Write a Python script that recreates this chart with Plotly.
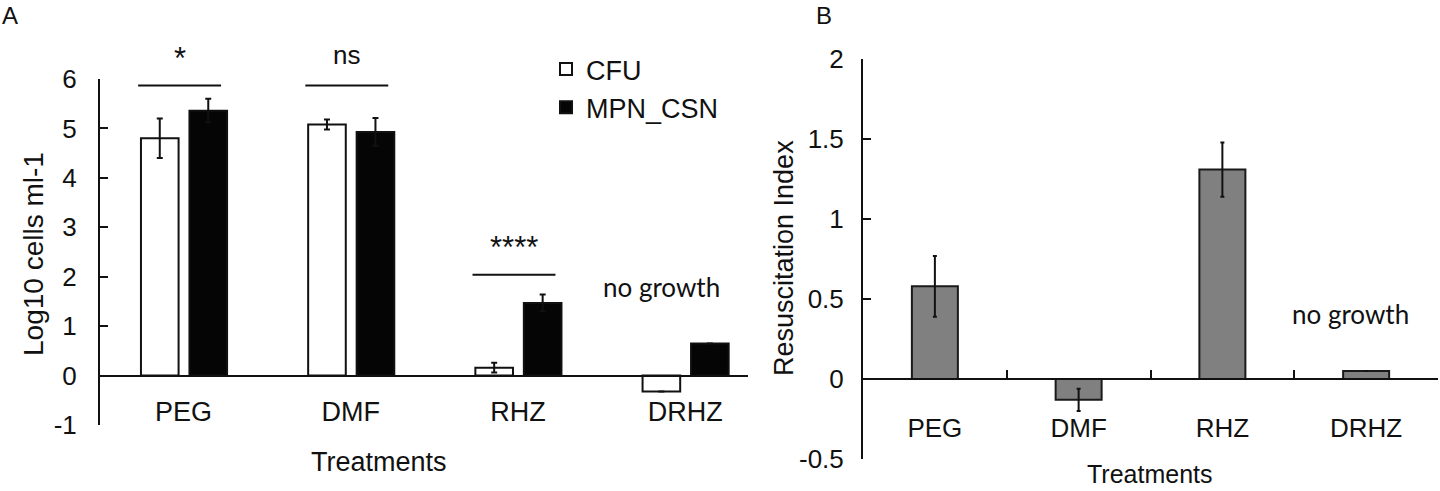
import plotly.graph_objects as go

# ---------------- data ----------------
categories = ["PEG", "DMF", "RHZ", "DRHZ"]

cfu_values = [4.80, 5.08, 0.16, -0.32]
cfu_errors = [0.40, 0.10, 0.10, None]
mpn_values = [5.36, 4.93, 1.47, 0.65]
mpn_errors = [0.24, 0.28, 0.17, None]

ri_values = [0.58, -0.13, 1.31, 0.05]
ri_errors = [0.19, 0.07, 0.17, None]

sig_categories = ["PEG", "DMF", "RHZ"]
sig_levels = [5.87, 5.87, 2.04]
sig_labels = ["*", "ns", "****"]

a_tickvals = [-1, 0, 1, 2, 3, 4, 5, 6]
a_ticktext = ["-1", "0", "1", "2", "3", "4", "5", "6"]
b_tickvals = [-0.5, 0, 0.5, 1, 1.5, 2]
b_ticktext = ["-0.5", "0", "0.5", "1", "1.5", "2"]

# ---------------- layout helpers ----------------
W, H = 1440, 491
ARIAL = "Liberation Sans, Arial, sans-serif"
CALIBRI = "Lato, Open Sans, sans-serif"
INK = "#111111"


def fx(p):
    return p / W


def fy(p):
    return 1 - p / H


# panel A geometry
a_xdom = [fx(100), fx(748)]
a_ydom = [fy(425), fy(79)]
a_yrange = [-1, 6]
a_cat_px = 167.2
a_xrange = [-0.5, -0.5 + (748 - 100) / a_cat_px]
a_zero = a_ydom[0] + (0 - a_yrange[0]) / (a_yrange[1] - a_yrange[0]) * (a_ydom[1] - a_ydom[0])

# panel B geometry
b_xdom = [fx(863), fx(1438)]
b_ydom = [fy(459), fy(59.3)]
b_yrange = [-0.5, 2]
b_zero = b_ydom[0] + (0 - b_yrange[0]) / (b_yrange[1] - b_yrange[0]) * (b_ydom[1] - b_ydom[0])

bar_w = 0.225

fig = go.Figure()

fig.add_trace(go.Bar(
    x=categories, y=cfu_values, name="CFU",
    width=bar_w, offset=-0.255,
    marker=dict(color="white", line=dict(color=INK, width=2)),
    error_y=dict(type="data", array=cfu_errors, color=INK, thickness=2, width=3),
    xaxis="x", yaxis="y",
))
fig.add_trace(go.Bar(
    x=categories, y=mpn_values, name="MPN_CSN",
    width=bar_w, offset=0.035,
    marker=dict(color="#050505", line=dict(color=INK, width=2)),
    error_y=dict(type="data", array=mpn_errors, color=INK, thickness=2, width=3),
    xaxis="x", yaxis="y",
))
fig.add_trace(go.Bar(
    x=categories, y=ri_values, name="Resuscitation Index",
    width=0.32, showlegend=False,
    marker=dict(color="#808080", line=dict(color="#1a1a1a", width=2)),
    error_y=dict(type="data", array=ri_errors, color=INK, thickness=2, width=2),
    xaxis="x2", yaxis="y2",
))

shapes = []
annotations = []
for cat, lvl, lab in zip(sig_categories, sig_levels, sig_labels):
    i = categories.index(cat)
    x0, x1 = i - 0.272, i + 0.224
    shapes.append(dict(type="line", xref="x", yref="y", x0=x0, x1=x1, y0=lvl, y1=lvl,
                       line=dict(color=INK, width=2)))
    is_star = lab != "ns"
    annotations.append(dict(xref="x", yref="y", x=(x0 + x1) / 2, y=lvl,
                            xanchor="center", yanchor="middle",
                            yshift=27 if is_star else 30,
                            text=lab, showarrow=False,
                            font=dict(family=ARIAL, size=31 if is_star else 26, color=INK)))


def label(x, y, text, size, family=ARIAL, angle=0):
    return dict(xref="paper", yref="paper", x=fx(x), y=fy(y), text=text, showarrow=False,
                xanchor="center", yanchor="middle", textangle=angle,
                font=dict(family=family, size=size, color=INK))


annotations += [
    dict(xref="x", yref="y", x="DRHZ", xshift=-24, y=1.8, text="no growth", showarrow=False,
         xanchor="center", yanchor="middle",
         font=dict(family=CALIBRI, size=26, color=INK)),
    dict(xref="x2", yref="y2", x="DRHZ", xshift=-16, y=0.41, text="no growth", showarrow=False,
         xanchor="center", yanchor="middle",
         font=dict(family=CALIBRI, size=26, color=INK)),
    label(379, 462, "Treatments", 27),
    label(1150, 474, "Treatments", 25),
    label(33, 254, "Log10 cells ml-1", 28, angle=-90),
    label(784, 258, "Resuscitation Index", 27, angle=-90),
    label(10, 16, "A", 24),
    label(824, 15, "B", 24),
]

fig.update_layout(
    template="none",
    width=W, height=H,
    margin=dict(l=0, r=0, t=0, b=0, autoexpand=False),
    paper_bgcolor="white", plot_bgcolor="white",
    barmode="overlay",
    font=dict(family=ARIAL, color=INK),
    showlegend=True,
    legend=dict(x=fx(546), y=fy(45), xanchor="left", yanchor="top",
                bgcolor="rgba(0,0,0,0)", borderwidth=0,
                font=dict(family=ARIAL, size=27, color=INK),
                itemwidth=30, tracegroupgap=0),
    xaxis=dict(domain=a_xdom, type="category", categoryorder="array", categoryarray=categories,
               range=a_xrange, anchor="free", position=a_zero, automargin=False,
               showline=True, linewidth=2, linecolor=INK, ticks="",
               tickfont=dict(family=ARIAL, size=27, color=INK), ticklabelstandoff=12,
               showgrid=False, zeroline=False, fixedrange=True),
    yaxis=dict(domain=a_ydom, range=a_yrange, anchor="x", automargin=False,
               tickvals=a_tickvals, ticktext=a_ticktext,
               showline=True, linewidth=2, linecolor=INK,
               ticks="inside", ticklen=8, tickwidth=2, tickcolor=INK,
               tickfont=dict(family=ARIAL, size=26, color=INK), ticklabelstandoff=16,
               showgrid=False, zeroline=False),
    xaxis2=dict(domain=b_xdom, type="category", categoryorder="array", categoryarray=categories,
                range=[-0.5, 3.5], anchor="free", position=b_zero, automargin=False,
                showline=True, linewidth=2, linecolor=INK,
                ticks="inside", tickson="boundaries", ticklen=8, tickwidth=2, tickcolor=INK,
                tickfont=dict(family=ARIAL, size=26, color=INK), ticklabelstandoff=26,
                showgrid=False, zeroline=False),
    yaxis2=dict(domain=b_ydom, range=b_yrange, anchor="x2", automargin=False,
                tickvals=b_tickvals, ticktext=b_ticktext,
                showline=True, linewidth=2, linecolor=INK,
                ticks="inside", ticklen=8, tickwidth=2, tickcolor=INK,
                tickfont=dict(family=ARIAL, size=26, color=INK), ticklabelstandoff=12,
                showgrid=False, zeroline=False),
    shapes=shapes,
    annotations=annotations,
)

fig.write_html("out.html", config={"displayModeBar": False},
               post_script="document.body.style.margin='0';")
